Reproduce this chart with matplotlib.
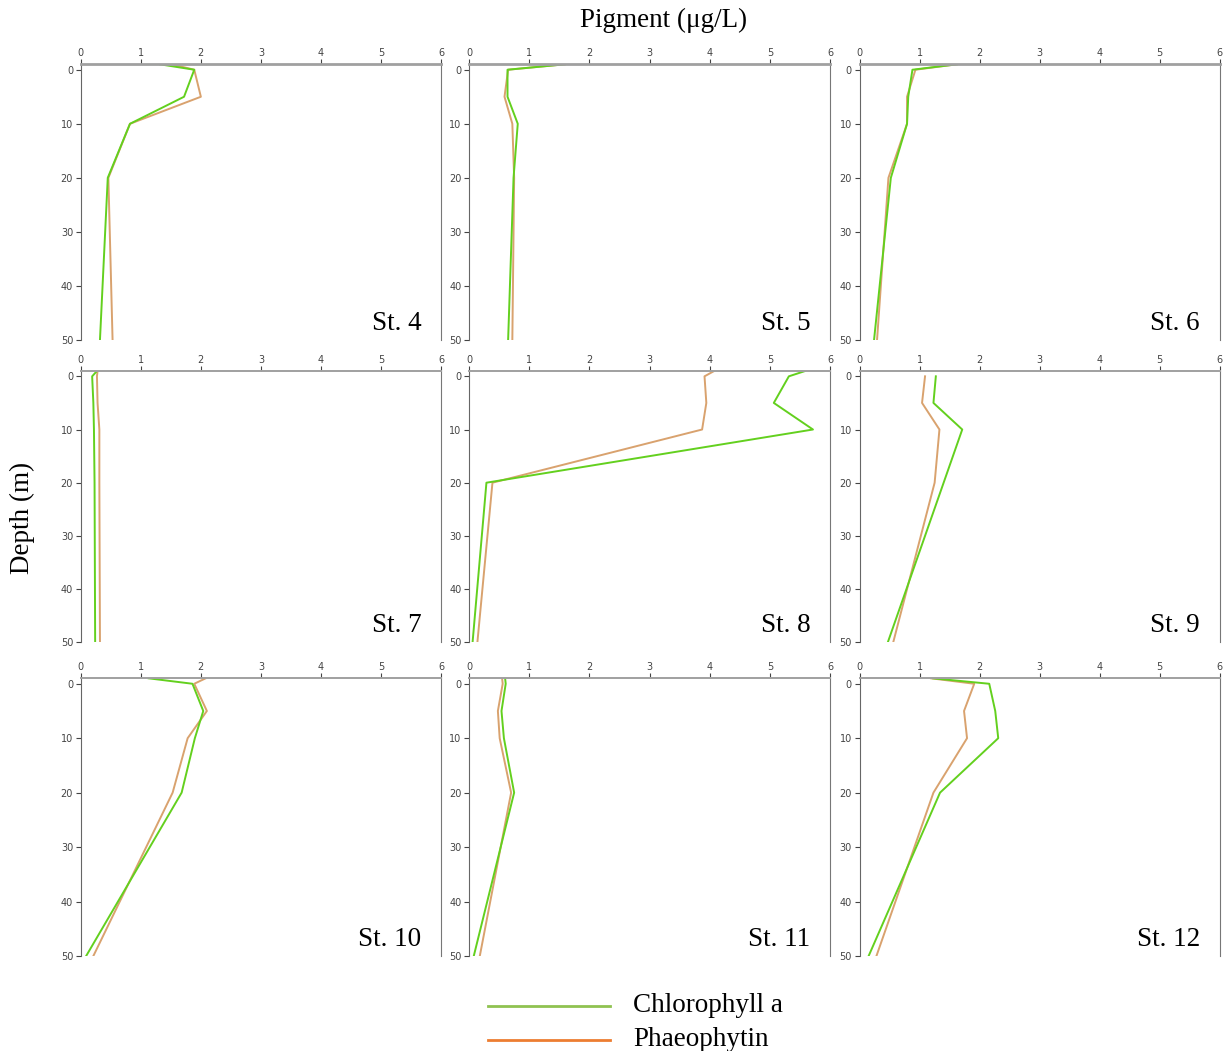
import numpy as np
import matplotlib.pyplot as plt

# Sampling depths (m); -1 is the surface reading drawn at the top edge
depth = [-1, 0, 5, 10, 20, 50]

stations = ['St. 4', 'St. 5', 'St. 6', 'St. 7', 'St. 8', 'St. 9',
            'St. 10', 'St. 11', 'St. 12']

# Chlorophyll a (ug/L) per station, in depth order
chl_st4 = [1.32, 1.89, 1.72, 0.82, 0.45, 0.32]
chl_st5 = [1.59, 0.64, 0.64, 0.81, 0.74, 0.65]
chl_st6 = [1.62, 0.88, 0.81, 0.79, 0.52, 0.24]
chl_st7 = [0.27, 0.19, 0.21, 0.22, 0.23, 0.24]
chl_st8 = [5.58, 5.31, 5.06, 5.71, 0.29, 0.06]
chl_st9 = [np.nan, 1.27, 1.23, 1.71, 1.40, 0.47]
chl_st10 = [1.13, 1.86, 2.04, 1.90, 1.68, 0.09]
chl_st11 = [0.60, 0.61, 0.54, 0.58, 0.75, 0.08]
chl_st12 = [1.22, 2.16, 2.26, 2.31, 1.34, 0.15]

# Phaeophytin (ug/L) per station
pha_st4 = [1.52, 1.89, 2.00, 0.82, 0.46, 0.53]
pha_st5 = [1.59, 0.65, 0.59, 0.72, 0.75, 0.72]
pha_st6 = [1.62, 0.93, 0.79, 0.79, 0.48, 0.29]
pha_st7 = [0.28, 0.27, 0.28, 0.31, 0.31, 0.32]
pha_st8 = [4.07, 3.91, 3.94, 3.87, 0.39, 0.14]
pha_st9 = [np.nan, 1.09, 1.04, 1.33, 1.25, 0.56]
pha_st10 = [2.08, 1.89, 2.10, 1.78, 1.53, 0.21]
pha_st11 = [0.55, 0.56, 0.48, 0.51, 0.70, 0.18]
pha_st12 = [1.19, 1.91, 1.74, 1.79, 1.23, 0.28]

chl = [chl_st4, chl_st5, chl_st6, chl_st7, chl_st8, chl_st9,
       chl_st10, chl_st11, chl_st12]
pha = [pha_st4, pha_st5, pha_st6, pha_st7, pha_st8, pha_st9,
       pha_st10, pha_st11, pha_st12]

chl_color = '#63d01e'
pha_color = '#d9a26e'
serif = 'Liberation Serif'

fig = plt.figure(figsize=(12.27, 10.51), dpi=100)

lefts = [0.0658, 0.3822, 0.7006]
widths = [0.2937, 0.2946, 0.2934]
bottoms = [0.6765, 0.3889, 0.0904]
heights = [0.2623, 0.2581, 0.2642]

for i, name in enumerate(stations):
    r, c = divmod(i, 3)
    ax = fig.add_axes([lefts[c], bottoms[r], widths[c], heights[r]])
    ax.plot(pha[i], depth, color=pha_color, lw=1.4)
    ax.plot(chl[i], depth, color=chl_color, lw=1.4)
    ax.set_xlim(0, 6)
    ax.set_ylim(50, -1)
    ax.set_xticks(range(7))
    ax.set_yticks(range(0, 51, 10))
    ax.xaxis.tick_top()
    ax.tick_params(axis='both', labelsize=7, colors='#444444', length=3.5,
                   width=0.8, pad=2)
    ax.tick_params(axis='x', pad=1)
    ax.spines['bottom'].set_visible(False)
    ax.spines['left'].set_color('#666666')
    ax.spines['right'].set_color('#777777')
    ax.spines['top'].set_color('#a0a0a0')
    ax.spines['top'].set_linewidth(2.0 if r == 0 else 1.4)
    ax.text(0.945, 0.015, name, transform=ax.transAxes, ha='right',
            va='bottom', fontsize=19.5, family=serif)

fig.text(0.541, 0.981, 'Pigment (\u03bcg/L)', ha='center', va='center',
         fontsize=19.5, family=serif)
fig.text(0.018, 0.507, 'Depth (m)', ha='center', va='center',
         rotation=90, fontsize=19.5, family=serif)

# Legend drawn in figure coordinates below the grid
leg_ax = fig.add_axes([0.39, 0.0, 0.3, 0.06])
leg_ax.set_xlim(0, 1)
leg_ax.set_ylim(0, 1)
leg_ax.axis('off')
leg_ax.plot([0.027, 0.358], [0.72, 0.72], color='#8fc250', lw=2)
leg_ax.plot([0.027, 0.358], [0.18, 0.18], color='#ed7d31', lw=2)
leg_ax.text(0.42, 0.72, 'Chlorophyll a', va='center', fontsize=19.5,
            family=serif)
leg_ax.text(0.42, 0.18, 'Phaeophytin', va='center', fontsize=19.5,
            family=serif)

fig.savefig('out.png', dpi=100)
